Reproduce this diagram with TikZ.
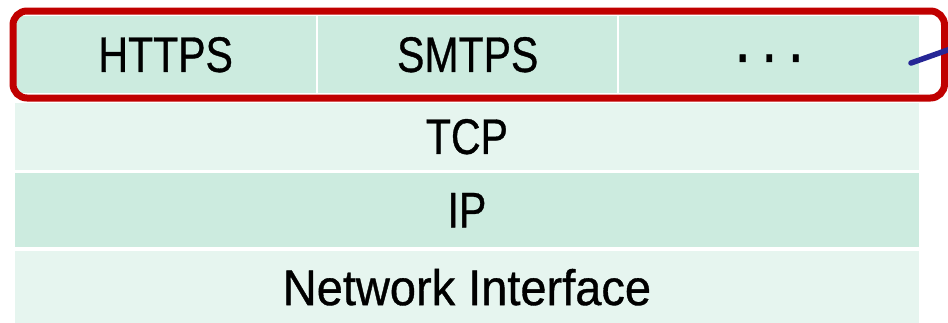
\documentclass[tikz,border=0pt]{standalone}
\usepackage{fontspec}
\setmainfont[FakeStretch=0.82,FakeBold=0.7]{Liberation Sans}
\newfontfamily\mixedcase[FakeStretch=0.94,FakeBold=0.7]{Liberation Sans}
\definecolor{mintdark}{RGB}{204,235,223}
\definecolor{mintlight}{RGB}{230,245,239}
\definecolor{framered}{RGB}{192,0,0}
\definecolor{linkblue}{RGB}{38,38,150}
\begin{document}
\begin{tikzpicture}[x=1pt,y=-1pt,
  layer/.style={rectangle,inner sep=0pt,anchor=north west,font=\fontsize{50}{50}\selectfont},
  proto/.style={layer,fill=mintdark,minimum height=77pt},
  band/.style={layer,minimum width=904.5pt}]
\useasboundingbox (0,0) rectangle (948,322);
\begin{scope}
\clip (0,0) rectangle (948,322);
% application layer cells
\node[proto,minimum width=301pt] (https) at (15,16) {HTTPS};
\node[proto,minimum width=299pt] (smtps) at (318,16) {SMTPS};
\node[proto,minimum width=300pt] (more)  at (619,16)
  {\fontsize{68}{68}\selectfont\raisebox{-22pt}[0pt][0pt]{·\hspace{8pt}·\hspace{8pt}·}};
% lower layers
\node[band,fill=mintlight,minimum height=67pt] (tcp) at (14.5,103) {TCP};
\node[band,fill=mintdark,minimum height=74pt] (ip) at (14.5,173) {IP};
\node[band,fill=mintlight,minimum height=72pt] (ni) at (14.5,251) {\mixedcase Network Interface};
% highlight around the application layer
\draw[framered,line width=7pt,rounded corners=14pt] (13,11) rectangle (944.5,98);
% pointer leaving to the right
\coordinate (tip) at (911,63);
\coordinate (away) at (990,35);
\draw[linkblue,line width=5.5pt,line cap=round] (tip) -- (away);
\end{scope}
\end{tikzpicture}
\end{document}
